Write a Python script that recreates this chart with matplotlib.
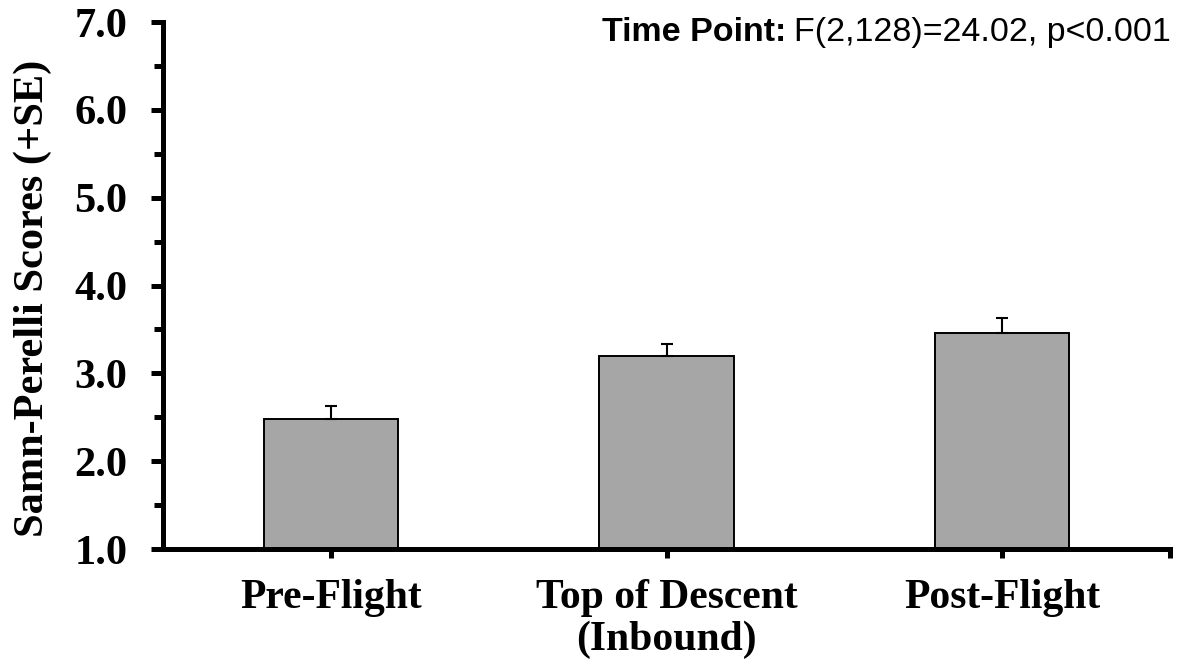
import matplotlib
matplotlib.use("Agg")
import matplotlib.pyplot as plt
from matplotlib.ticker import MultipleLocator
from matplotlib.font_manager import FontProperties

categories = ["Pre-Flight", "Top of Descent\n(Inbound)", "Post-Flight"]
means = [2.48, 3.20, 3.46]
se = [0.15, 0.13, 0.17]
ytick_values = [1, 2, 3, 4, 5, 6, 7]
ytick_labels = ["1.0", "2.0", "3.0", "4.0", "5.0", "6.0", "7.0"]

W, H = 1184, 669
fig = plt.figure(figsize=(W/100, H/100), dpi=100)
ax = fig.add_axes([163/W, (H-549)/H, (1170-163)/W, (549-22)/H])

x = list(range(len(categories)))
ax.bar(x, [m - 1.0 for m in means], bottom=1.0, width=0.4, color="#A6A6A6",
       edgecolor="black", linewidth=1.4, zorder=2)
ax.errorbar(x, means, yerr=[[0]*3, se], fmt="none", ecolor="black",
            elinewidth=1.5, capsize=4.3, capthick=1.5, zorder=3)

ax.set_xlim(-0.5, 2.5)
ax.set_ylim(1.0, 7.0)
ax.yaxis.set_minor_locator(MultipleLocator(0.5))
ax.set_yticks(ytick_values)
ax.set_yticklabels(ytick_labels)
ax.set_xticks(x + [2.5])
ax.set_xticklabels(categories + [""])

for s in ["top", "right"]:
    ax.spines[s].set_visible(False)
for s in ["left", "bottom"]:
    ax.spines[s].set_linewidth(3.6)

for lab in ax.get_yticklabels():
    lab.set_fontproperties(FontProperties(family="Liberation Serif", weight="bold", size=30.5))
for lab in ax.get_xticklabels():
    lab.set_fontproperties(FontProperties(family="Liberation Serif", weight="bold", size=30))
    lab.set_linespacing(1.12)

ax.tick_params(axis="y", which="major", direction="out", length=8.6, width=3.6, pad=17)
ax.tick_params(axis="y", which="minor", direction="out", length=6.5, width=3.6)
ax.tick_params(axis="x", which="major", direction="out", length=6.5, width=3.6, pad=15)

fig.text(33/W, 1 - 298/H, "Samn-Perelli Scores (+SE)", rotation=90, ha="center",
         va="center", fontsize=30.5, fontfamily="Liberation Serif", fontweight="bold")

rest = fig.text(1171/W, 1 - 41/H, "F(2,128)=24.02, p<0.001", ha="right", va="baseline",
                fontsize=24.5, fontfamily="Liberation Sans")
fig.canvas.draw()
bb = rest.get_window_extent(renderer=fig.canvas.get_renderer())
fig.text((bb.x0 - 8) / W, 1 - 41/H, "Time Point:", ha="right", va="baseline",
         fontsize=24.5, fontfamily="Liberation Sans", fontweight="bold")

fig.savefig("out.png", dpi=100)
